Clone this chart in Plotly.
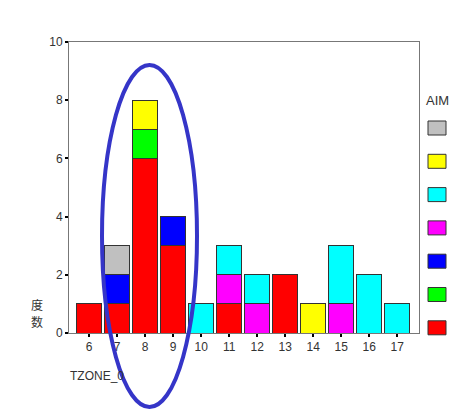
import plotly.graph_objects as go

categories = [6, 7, 8, 9, 10, 11, 12, 13, 14, 15, 16, 17]
series_names = ["red", "green", "blue", "magenta", "cyan", "yellow", "gray"]
series_colors = ["#ff0000", "#00ff00", "#0000ff", "#ff00ff", "#00ffff", "#ffff00", "#c0c0c0"]
red     = [1, 1, 6, 3, 0, 1, 0, 2, 0, 0, 0, 0]
green   = [0, 0, 1, 0, 0, 0, 0, 0, 0, 0, 0, 0]
blue    = [0, 1, 0, 1, 0, 0, 0, 0, 0, 0, 0, 0]
magenta = [0, 0, 0, 0, 0, 1, 1, 0, 0, 1, 0, 0]
cyan    = [0, 0, 0, 0, 1, 1, 1, 0, 0, 2, 2, 1]
yellow  = [0, 0, 1, 0, 0, 0, 0, 0, 1, 0, 0, 0]
gray    = [0, 1, 0, 0, 0, 0, 0, 0, 0, 0, 0, 0]
series_values = [red, green, blue, magenta, cyan, yellow, gray]
y_ticks = [0, 2, 4, 6, 8, 10]

W, H = 450, 411
L, R, T, B = 69, 31, 42, 78
pw, ph = W - L - R, H - T - B

def px(x):
    return (x - L) / pw

def py(y):
    return (H - B - y) / ph

fig = go.Figure()
for name, color, vals in zip(series_names, series_colors, series_values):
    fig.add_trace(go.Bar(
        x=categories, y=vals, name=name, marker_color=color,
        marker_line_color="#333333", marker_line_width=1, width=0.9,
        showlegend=False,
    ))

shapes = []
legend_top = 121
for i, color in enumerate(reversed(series_colors)):
    y0 = legend_top + i * 33.3
    shapes.append(dict(type="rect", xref="paper", yref="paper",
                       x0=px(428), x1=px(446), y0=py(y0 + 14), y1=py(y0),
                       fillcolor=color, line=dict(color="#333333", width=1)))
shapes.append(dict(type="circle", xref="paper", yref="paper",
                   x0=px(102), x1=px(197), y0=py(407), y1=py(65),
                   line=dict(color="#3535c8", width=4)))

cjk = dict(size=12, family="Noto Sans CJK SC", color="#333333")
fig.update_layout(
    width=W, height=H,
    margin=dict(l=L, r=R, t=T, b=B),
    paper_bgcolor="white", plot_bgcolor="white",
    barmode="stack", bargap=0.1,
    font=dict(family="Liberation Sans, Arial", size=12, color="#333333"),
    xaxis=dict(range=[5.28, 17.78], tickmode="array", tickvals=categories,
               ticktext=[str(c) for c in categories],
               showline=True, linecolor="#777777", linewidth=1, mirror=True,
               ticks="outside", ticklen=3, tickcolor="#000000", tickwidth=2,
               showgrid=False, zeroline=False),
    yaxis=dict(range=[0, 10], tickvals=y_ticks,
               showline=True, linecolor="#777777", linewidth=1, mirror=True,
               ticks="outside", ticklen=3, tickcolor="#000000", tickwidth=2,
               showgrid=False, zeroline=False),
    shapes=shapes,
    annotations=[
        dict(text="度", xref="paper", yref="paper", x=px(30), y=py(314),
             showarrow=False, font=cjk, borderpad=0),
        dict(text="数", xref="paper", yref="paper", x=px(30), y=py(331),
             showarrow=False, font=cjk, borderpad=0),
        dict(text="TZONE_0", xref="paper", yref="paper", x=px(68), y=py(385),
             xanchor="left", showarrow=False, font=dict(size=12)),
        dict(text="AIM", xref="paper", yref="paper", x=px(450), y=py(92),
             xanchor="right", showarrow=False, font=dict(size=13), borderpad=0),
    ],
)
fig.write_html("out.html", config={"displayModeBar": False},
               post_script="document.body.style.margin='0';document.body.style.overflow='hidden';")
